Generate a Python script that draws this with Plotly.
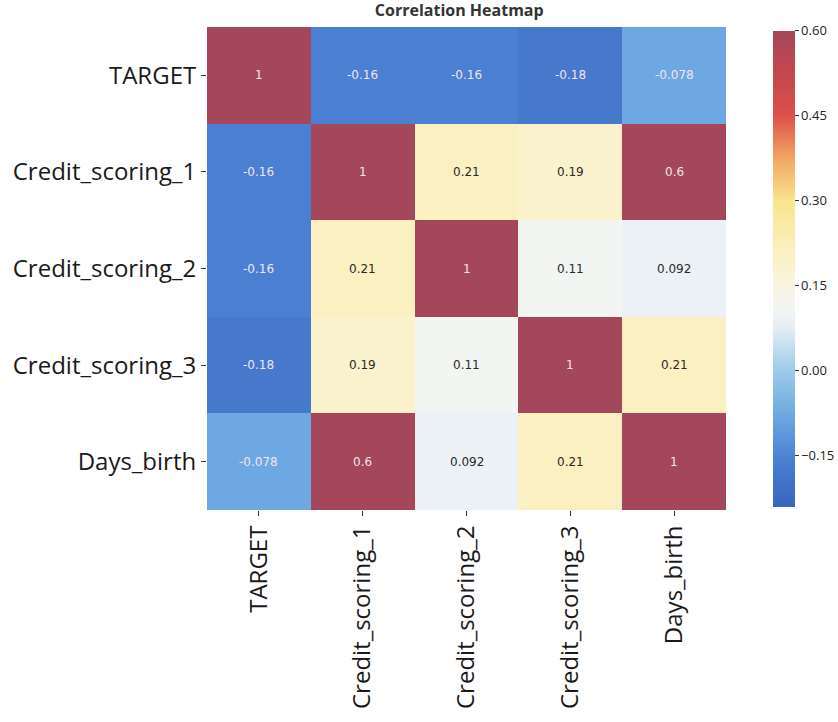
import plotly.graph_objects as go

# Correlation matrix of the credit features
labels = ["TARGET", "Credit_scoring_1", "Credit_scoring_2", "Credit_scoring_3", "Days_birth"]
row_target = [1.0, -0.16, -0.16, -0.18, -0.078]
row_cs1 = [-0.16, 1.0, 0.21, 0.19, 0.6]
row_cs2 = [-0.16, 0.21, 1.0, 0.11, 0.092]
row_cs3 = [-0.18, 0.19, 0.11, 1.0, 0.21]
row_days = [-0.078, 0.6, 0.092, 0.21, 1.0]
corr = [row_target, row_cs1, row_cs2, row_cs3, row_days]

colorbar_ticks = [-0.15, 0.0, 0.15, 0.30, 0.45, 0.60]
zmin, zmax = -0.24, 0.60


def stop(v):
    return (v - zmin) / (zmax - zmin)


# diverging red-yellow-blue scale, reversed (blue = negative)
colorscale = [
    [0.0, "#3a64bd"],
    [stop(-0.16), "#4a7fd1"],
    [stop(-0.078), "#6ea8e2"],
    [stop(0.0), "#9dcbe9"],
    [stop(0.08), "#e6eff5"],
    [stop(0.11), "#f3f5f3"],
    [stop(0.16), "#f9f4dc"],
    [stop(0.21), "#fbf0c2"],
    [stop(0.30), "#f8e58e"],
    [stop(0.38), "#f1a162"],
    [stop(0.45), "#dc504a"],
    [stop(0.53), "#c24750"],
    [1.0, "#a4475b"],
]

fig = go.Figure(
    go.Heatmap(
        z=corr,
        x=labels,
        y=labels,
        zmin=zmin,
        zmax=zmax,
        colorscale=colorscale,
        xgap=0,
        ygap=0,
        hoverongaps=False,
        colorbar=dict(
            x=1.09,
            xanchor="left",
            xpad=0,
            y=0.5,
            yanchor="middle",
            ypad=0,
            len=0.985,
            lenmode="fraction",
            thickness=22,
            outlinewidth=0,
            tickvals=colorbar_ticks,
            ticktext=[f"{t:.2f}".replace("-", "\u2212") for t in colorbar_ticks],
            ticks="outside",
            ticklen=4,
            tickcolor="#333",
            tickfont=dict(family="Open Sans", size=13, color="#222"),
        ),
    )
)

# cell annotations, formatted like '.2g'
for i, row in enumerate(corr):
    for j, v in enumerate(row):
        light_bg = 0.05 < v < 0.3
        fig.add_annotation(
            x=labels[j],
            y=labels[i],
            text=format(v, ".2g"),
            showarrow=False,
            font=dict(
                family="DejaVu Sans",
                size=12,
                color="#2a2a2a" if light_bg else "#f2e4ea",
            ),
        )

fig.update_layout(
    width=838,
    height=722,
    margin=dict(l=207, r=112, t=27, b=212, autoexpand=False),
    paper_bgcolor="white",
    plot_bgcolor="white",
    title=dict(
        text="<b>Correlation Heatmap</b>",
        x=0.548,
        xanchor="center",
        y=0.993,
        yanchor="top",
        font=dict(family="Open Sans", size=16, color="#333"),
    ),
    xaxis=dict(
        tickangle=-90,
        ticks="outside",
        ticklen=5,
        tickcolor="#333",
        tickfont=dict(family="Open Sans", size=24, color="#1a1a1a"),
        showgrid=False,
        zeroline=False,
    ),
    yaxis=dict(
        autorange="reversed",
        ticks="outside",
        ticklen=5,
        tickcolor="#333",
        tickfont=dict(family="Open Sans", size=24, color="#1a1a1a"),
        showgrid=False,
        zeroline=False,
    ),
)

fig.write_html("out.html")
